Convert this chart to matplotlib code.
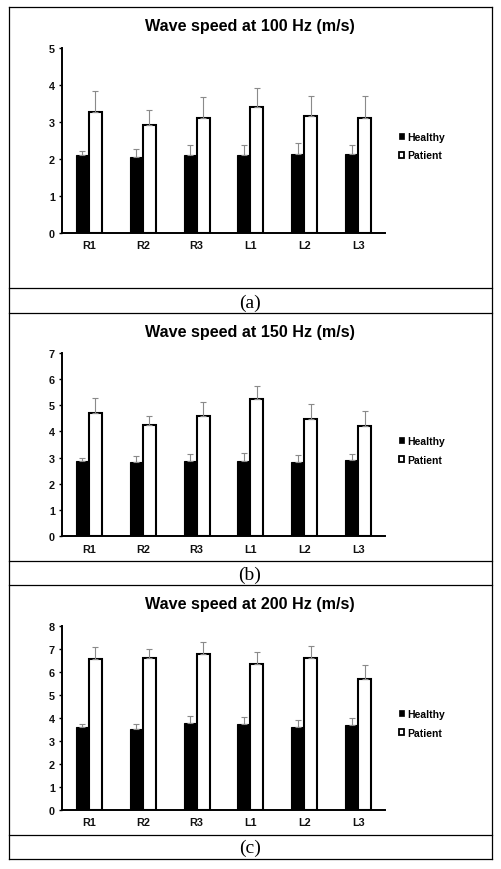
import matplotlib
matplotlib.use("Agg")
import matplotlib.pyplot as plt
from matplotlib.lines import Line2D
from matplotlib.patches import Patch
import numpy as np

SITES = ["R1", "R2", "R3", "L1", "L2", "L3"]
FREQS = ["100 Hz", "150 Hz", "200 Hz"]
CAPTIONS = ["(a)", "(b)", "(c)"]
YMAX = [5, 7, 8]

# mean values (m/s)
HEALTHY_100 = [2.11, 2.05, 2.10, 2.10, 2.13, 2.12]
HEALTHY_100_SD = [0.11, 0.22, 0.27, 0.27, 0.29, 0.26]
PATIENT_100 = [3.26, 2.91, 3.10, 3.39, 3.15, 3.10]
PATIENT_100_SD = [0.57, 0.40, 0.56, 0.52, 0.54, 0.61]

HEALTHY_150 = [2.86, 2.82, 2.86, 2.88, 2.82, 2.89]
HEALTHY_150_SD = [0.11, 0.23, 0.29, 0.28, 0.29, 0.26]
PATIENT_150 = [4.70, 4.23, 4.58, 5.24, 4.48, 4.19]
PATIENT_150_SD = [0.57, 0.37, 0.53, 0.51, 0.56, 0.60]

HEALTHY_200 = [3.59, 3.52, 3.77, 3.72, 3.61, 3.68]
HEALTHY_200_SD = [0.12, 0.20, 0.29, 0.32, 0.27, 0.29]
PATIENT_200 = [6.54, 6.59, 6.75, 6.32, 6.61, 5.67]
PATIENT_200_SD = [0.55, 0.40, 0.53, 0.54, 0.52, 0.61]

HEALTHY = [HEALTHY_100, HEALTHY_150, HEALTHY_200]
HEALTHY_SD = [HEALTHY_100_SD, HEALTHY_150_SD, HEALTHY_200_SD]
PATIENT = [PATIENT_100, PATIENT_150, PATIENT_200]
PATIENT_SD = [PATIENT_100_SD, PATIENT_150_SD, PATIENT_200_SD]

SANS = "Liberation Sans"
SERIF = "Liberation Serif"

W, H = 501, 870
fig = plt.figure(figsize=(W / 100, H / 100), dpi=100)


def fx(px):
    return px / W


def fy(py):
    return 1 - py / H


# axes boxes in pixels: (bottom y of 0, top y of ymax)
AX_PIX = [(233.7, 49.0), (537.0, 354.0), (810.7, 626.7)]
TITLE_Y = [26.0, 332.7, 604.0]
LEGEND_Y = [147.0, 451.5, 724.5]
CAPTION_Y = [303.0, 575.0, 848.5]

x = np.arange(len(SITES))
bw = 0.24

for i in range(3):
    y0, y1 = AX_PIX[i]
    ax = fig.add_axes([fx(62), fy(y0), fx(385) - fx(62), fy(y1) - fy(y0)])
    ax.bar(x - bw / 2, HEALTHY[i], bw, color="black", edgecolor="black",
           linewidth=0.8, label="Healthy")
    ax.bar(x + bw / 2, PATIENT[i], bw, color="white", edgecolor="black",
           linewidth=1.5, label="Patient")
    ax.errorbar(x - bw / 2, HEALTHY[i], yerr=[np.zeros(6), HEALTHY_SD[i]],
                fmt="none", ecolor="#8a8a8a", elinewidth=0.8, capsize=2.2,
                capthick=0.8)
    ax.errorbar(x + bw / 2, PATIENT[i], yerr=[np.zeros(6), PATIENT_SD[i]],
                fmt="none", ecolor="#8a8a8a", elinewidth=0.8, capsize=2.2,
                capthick=0.8)
    ax.set_xlim(-0.5, 5.5)
    ax.set_ylim(0, YMAX[i])
    ax.set_yticks(range(YMAX[i] + 1))
    ax.set_xticks(x)
    ax.set_xticklabels(SITES)
    for s in ["top", "right"]:
        ax.spines[s].set_visible(False)
    for s in ["left", "bottom"]:
        ax.spines[s].set_linewidth(1.4)
    ax.tick_params(axis="y", length=2.5, width=1.0, pad=2.5)
    ax.tick_params(axis="x", length=0, pad=5.5)
    for lab in ax.get_xticklabels() + ax.get_yticklabels():
        lab.set_fontfamily(SANS)
        lab.set_fontweight("bold")
        lab.set_fontsize(7.8)
        lab.set_color("#111111")

    fig.text(fx(250), fy(TITLE_Y[i]), f"Wave speed at {FREQS[i]} (m/s)",
             ha="center", va="center", fontsize=11.6, fontweight="bold",
             family=SANS)

    handles = [Patch(facecolor="black", edgecolor="black", linewidth=0.5),
               Patch(facecolor="white", edgecolor="black", linewidth=1.3)]
    fig.legend(handles, ["Healthy", "Patient"], loc="center left",
               bbox_to_anchor=(fx(399), fy(LEGEND_Y[i])), frameon=False,
               handlelength=0.5, handleheight=0.5, handletextpad=0.25,
               labelspacing=0.85, borderaxespad=0, borderpad=0,
               prop={"family": SANS, "weight": "bold", "size": 7.5})

    fig.text(fx(250), fy(CAPTION_Y[i]), CAPTIONS[i], ha="center",
             va="center", fontsize=14, family=SERIF)

# frame lines of the table around the panels
LEFT, RIGHT, TOP, BOTTOM = 9.0, 491.5, 8.3, 860.0
ROW_LINES = [289.3, 314.3, 561.5, 586.0, 836.0]
lw = 0.9
for yy in [TOP] + ROW_LINES + [BOTTOM]:
    fig.add_artist(Line2D([fx(LEFT), fx(RIGHT)], [fy(yy), fy(yy)],
                          color="black", linewidth=lw))
for xx in [LEFT, RIGHT]:
    fig.add_artist(Line2D([fx(xx), fx(xx)], [fy(TOP), fy(BOTTOM)],
                          color="black", linewidth=lw))

fig.savefig("out.png", dpi=100)
